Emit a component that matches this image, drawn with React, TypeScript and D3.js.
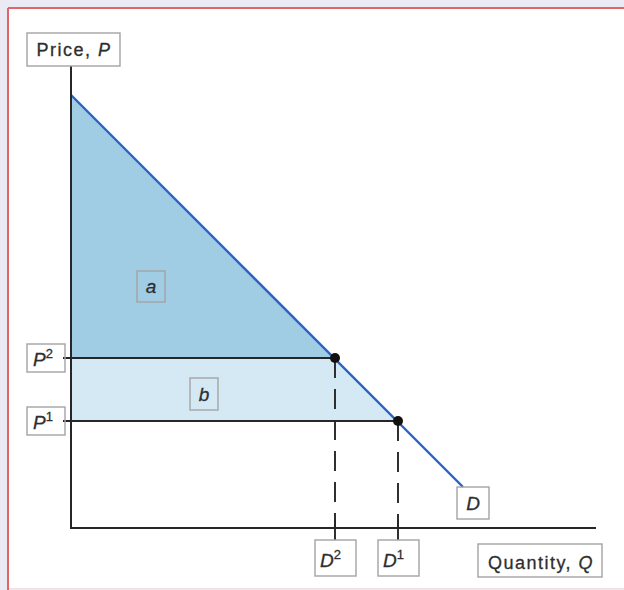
import React from "react";
import * as d3 from "d3";

// Demand curve endpoints (Q, P)
const demandLine: [number, number][] = [
  [0, 8.66],
  [7.84, 0.82],
];
// Equilibrium points
const pointNames = ["2", "1"];
const quantities = [5.28, 6.54];
const prices = [3.4, 2.14];

const W = 624;
const H = 590;

const x = d3.scaleLinear().domain([0, 10.5]).range([71, 596]);
const y = d3.scaleLinear().domain([0, 9.24]).range([528, 66]);

const FONT = "'Liberation Sans', Arial, Helvetica, sans-serif";
const TXT = "#2e2e2e";
const BOX = "#a3a3a3";
const INK = "#262626";

function Box({ x0, y0, w, h }: { x0: number; y0: number; w: number; h: number }) {
  return <rect x={x0} y={y0} width={w} height={h} fill="none" stroke={BOX} strokeWidth={1.4} />;
}

export default function App() {
  const line = d3
    .line<[number, number]>()
    .x((d) => x(d[0]))
    .y((d) => y(d[1]));
  const polyA: [number, number][] = [
    [0, demandLine[0][1]],
    [0, prices[0]],
    [quantities[0], prices[0]],
  ];
  const polyB: [number, number][] = [
    [0, prices[0]],
    [0, prices[1]],
    [quantities[1], prices[1]],
    [quantities[0], prices[0]],
  ];
  const area = (pts: [number, number][]) => (line(pts) || "") + "Z";
  const txtStyle = { letterSpacing: "1.5px" } as React.CSSProperties;

  return (
    <div style={{ position: "absolute", left: 0, top: 0 }}>
      <svg width={W} height={H} style={{ display: "block" }}>
        <rect x={0} y={0} width={W} height={H} fill="#ebeaf4" />
        <rect x={8} y={8} width={W} height={580} fill="white" />
        <line x1={8} y1={8} x2={W} y2={8} stroke="#e06666" strokeWidth={2} />
        <line x1={8} y1={8} x2={8} y2={H} stroke="#e06666" strokeWidth={2} />
        <line x1={9} y1={588.5} x2={W} y2={588.5} stroke="#f4dede" strokeWidth={1} />

        {/* shaded areas */}
        <path d={area(polyA)} fill="#a0cce4" />
        <path d={area(polyB)} fill="#d5e9f4" />

        {/* price lines */}
        {prices.map((p, i) => (
          <line key={"p" + i} x1={x(0) - 8} x2={x(quantities[i])} y1={y(p)} y2={y(p)} stroke={INK} strokeWidth={1.8} />
        ))}
        {/* dashed quantity lines */}
        {quantities.map((q, i) => (
          <g key={"q" + i}>
            <line x1={x(q)} x2={x(q)} y1={y(prices[i])} y2={y(0)} stroke={INK} strokeWidth={1.9} strokeDasharray="20,11" />
            <line x1={x(q)} x2={x(q)} y1={y(0) - 8} y2={y(0) + 12} stroke={INK} strokeWidth={1.9} />
          </g>
        ))}

        {/* demand line */}
        <path d={line(demandLine) || ""} fill="none" stroke="#2b63c2" strokeWidth={2.4} />

        {/* axes */}
        <line x1={x(0)} x2={x(0)} y1={y(9.24)} y2={y(0) + 1} stroke={INK} strokeWidth={2} />
        <line x1={x(0)} x2={x(10.5)} y1={y(0)} y2={y(0)} stroke={INK} strokeWidth={2} />

        {/* points */}
        {quantities.map((q, i) => (
          <circle key={"c" + i} cx={x(q)} cy={y(prices[i])} r={5} fill="#111" />
        ))}

        {/* labels */}
        <g fontFamily={FONT} fill={TXT} stroke={TXT} strokeWidth={0.3}>
          <Box x0={27} y0={33} w={93} h={33} />
          <text x={74} y={56} fontSize={18} textAnchor="middle" style={txtStyle}>
            Price, <tspan fontStyle="italic">P</tspan>
          </text>

          {prices.map((p, i) => (
            <g key={"pl" + i}>
              <Box x0={27} y0={y(p) - 14} w={38} h={28} />
              <text x={33} y={y(p) + 8} fontSize={19} fontStyle="italic">
                P<tspan fontSize={13} dy={-8} fontStyle="normal">{pointNames[i]}</tspan>
              </text>
            </g>
          ))}

          {quantities.map((q, i) => (
            <g key={"ql" + i}>
              <Box x0={x(q) - 20} y0={540} w={41} h={36} />
              <text x={x(q) - 15} y={567} fontSize={19} fontStyle="italic">
                D<tspan fontSize={13} dy={-8} fontStyle="normal">{pointNames[i]}</tspan>
              </text>
            </g>
          ))}

          <Box x0={137} y0={271} w={28} h={31} />
          <text x={151} y={293} fontSize={19} fontStyle="italic" textAnchor="middle">a</text>

          <Box x0={190} y0={378} w={28} h={32} />
          <text x={204} y={401} fontSize={19} fontStyle="italic" textAnchor="middle">b</text>

          <Box x0={457} y0={487} w={32} h={32} />
          <text x={473} y={510} fontSize={19} fontStyle="italic" textAnchor="middle">D</text>

          <Box x0={478} y0={544} w={124} h={33} />
          <text x={541} y={569} fontSize={18} textAnchor="middle" style={txtStyle}>
            Quantity, <tspan fontStyle="italic">Q</tspan>
          </text>
        </g>
      </svg>
    </div>
  );
}
